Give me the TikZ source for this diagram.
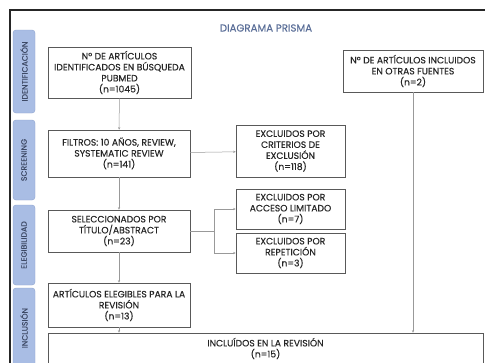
\documentclass[tikz,border=0pt]{standalone}
\usepackage{fontspec}
\setmainfont{Poppins}[FakeBold=0.25]
\usetikzlibrary{arrows.meta,shadows}

\definecolor{tabblue}{HTML}{A9BDE4}
\definecolor{tabedge}{HTML}{8DA3CF}
\definecolor{titleblue}{HTML}{5A6E98}
\definecolor{tabtext}{HTML}{3E4A66}

\begin{document}
\begin{tikzpicture}[x=1pt, y=-1pt,
    box/.style = {draw=black!65, line width=0.5pt, fill=white, align=center, inner sep=0.5pt,
                  text=black!85, font=\fontsize{9.2}{11}\selectfont,
                  drop shadow={shadow xshift=0.8pt, shadow yshift=-0.8pt, fill=black!45}},
    tab/.style = {draw=tabedge, fill=tabblue, rounded corners=3pt, rotate=90, minimum height=22pt,
                  text=tabtext, font=\fontsize{7.8}{8}\selectfont},
    line/.style = {draw=black!40, line width=0.5pt, -{Stealth[length=2.6pt, width=2.2pt]}}]

    \useasboundingbox (0,0) rectangle (485,362);
    \fill[white] (0,0) rectangle (485,362);
    \draw[line width=1.2pt, black!85] (10,372) -- (10,10) -- (490,10);

    \node[text=titleblue, font=\fontsize{10.2}{12}\selectfont] (title) at (266,28) {DIAGRAMA PRISMA};

    % fases
    \node[tab, minimum width=83pt] (t1) at (24,71.5) {IDENTIFICACIÓN};
    \node[tab, minimum width=80pt] (t2) at (24,160) {SCREENING};
    \node[tab, minimum width=80pt] (t3) at (24,245) {ELEGIBILIDAD};
    \node[tab, minimum width=80pt] (t4) at (24,328) {INCLUSIÓN};

    % cajas
    \node[box, minimum width=143pt, minimum height=51pt] (pubmed) at (119.5,72.5)
        {Nº DE ARTÍCULOS\\IDENTIFICADOS EN BÚSQUEDA\\PUBMED\\(n=1045)};
    \node[box, minimum width=140pt, minimum height=42pt] (otras) at (413,71)
        {Nº DE ARTÍCULOS INCLUIDOS\\EN OTRAS FUENTES\\(n=2)};
    \node[box, minimum width=142pt, minimum height=47pt] (filtros) at (119,153.5)
        {FILTROS: 10 AÑOS, REVIEW,\\SYSTEMATIC REVIEW\\(n=141)};
    \node[box, minimum width=109pt, minimum height=52pt] (criterios) at (290.5,151)
        {EXCLUIDOS POR\\CRITERIOS DE\\EXCLUSIÓN\\(n=118)};
    \node[box, minimum width=142pt, minimum height=42pt] (selec) at (119,231)
        {SELECCIONADOS POR\\TÍTULO/ABSTRACT\\(n=23)};
    \node[box, minimum width=109pt, minimum height=40pt] (acceso) at (290.5,209)
        {EXCLUIDOS POR\\ACCESO LIMITADO\\(n=7)};
    \node[box, minimum width=109pt, minimum height=40pt] (repet) at (290.5,253)
        {EXCLUIDOS POR\\REPETICIÓN\\(n=3)};
    \node[box, minimum width=142pt, minimum height=44pt] (eleg) at (119,305)
        {ARTÍCULOS ELEGIBLES PARA LA\\REVISIÓN\\(n=13)};
    \node[box, minimum width=435pt, minimum height=31pt] (incl) at (265.5,348.5)
        {INCLUÍDOS EN LA REVISIÓN\\(n=15)};

    \coordinate (split) at ([xshift=24pt]selec.east);

    \draw[line] (pubmed) -- (filtros);
    \draw[line] (filtros) -- (criterios);
    \draw[line] (filtros) -- (selec);
    \draw[draw=black!40, line width=0.5pt] (selec.east) -- (split);
    \draw[line] (split) |- (acceso.west);
    \draw[line] (split) |- (repet.west);
    \draw[line] (selec) -- (eleg);
    \draw[line] (eleg) -- (eleg.south |- incl.north);
    \draw[line] (otras) -- (otras.south |- incl.north);
\end{tikzpicture}
\end{document}
